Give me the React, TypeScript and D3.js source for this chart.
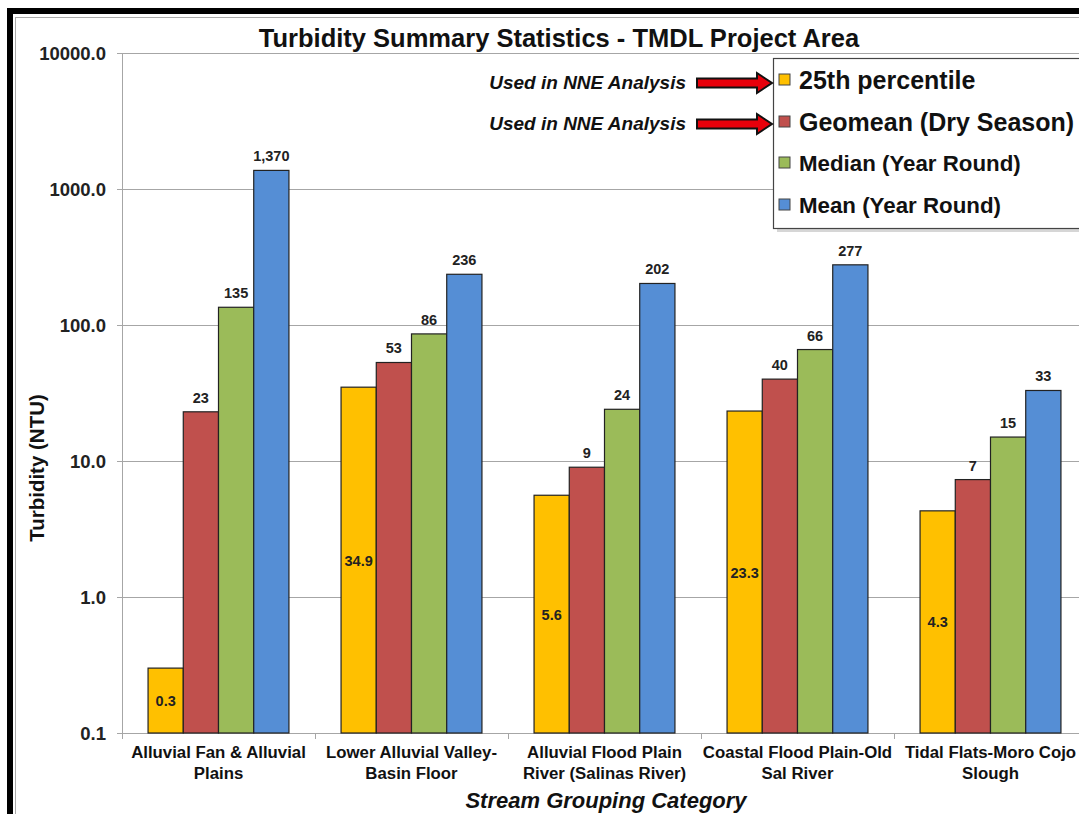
import React from "react";
import * as d3 from "d3";

const categories = [
  "Alluvial Fan & Alluvial Plains",
  "Lower Alluvial Valley-Basin Floor",
  "Alluvial Flood Plain River (Salinas River)",
  "Coastal Flood Plain-Old Sal River",
  "Tidal Flats-Moro Cojo Slough",
];
const categoryLines = [
  ["Alluvial Fan & Alluvial", "Plains"],
  ["Lower Alluvial Valley-", "Basin Floor"],
  ["Alluvial Flood Plain", "River (Salinas River)"],
  ["Coastal Flood Plain-Old", "Sal River"],
  ["Tidal Flats-Moro Cojo", "Slough"],
];
const seriesNames = ["25th percentile", "Geomean (Dry Season)", "Median (Year Round)", "Mean (Year Round)"];
const seriesColors = ["#FFC000", "#C0504D", "#9BBB59", "#558ED5"];
const p25 = [0.3, 34.9, 5.6, 23.3, 4.3];
const geomean = [23, 53, 9, 40, 7.3];
const median = [135, 86, 24, 66, 15];
const mean = [1370, 236, 202, 277, 33];
const seriesValues = [p25, geomean, median, mean];
const yTicks = [0.1, 1, 10, 100, 1000, 10000];

const FONT = "'Liberation Sans', Arial, sans-serif";

export default function App() {
  const W = 1079, H = 814;
  const left = 122, right = 1087, top = 53, bottom = 733;
  const y = d3.scaleLog().domain([0.1, 10000]).range([bottom, top]);
  const x0 = d3.scaleBand<string>().domain(categories).range([left, right]).paddingInner(0.27).paddingOuter(0.135);
  const x1 = d3.scaleBand<number>().domain(d3.range(4)).range([0, x0.bandwidth()]);
  const step = x0.step();
  const fmtInt = d3.format(",.0f");
  const fmtDec = d3.format(".1f");

  const arrow = (yc: number) => {
    const x0a = 697, xh = 757, xt = 772;
    const bh = 4.5, hh = 10;
    const pts = [
      [x0a, yc - bh], [xh, yc - bh], [xh, yc - hh], [xt, yc], [xh, yc + hh], [xh, yc + bh], [x0a, yc + bh],
    ];
    return pts.map((p) => p.join(",")).join(" ");
  };

  return (
    <svg width={W} height={H} style={{ position: "absolute", left: 0, top: 0, background: "#fff" }} fontFamily={FONT}>
      <rect x={0} y={0} width={W} height={H} fill="#fff" />
      {/* frame */}
      <line x1={10} y1={11} x2={W} y2={11} stroke="#000" strokeWidth={6} />
      <line x1={10} y1={8} x2={10} y2={H} stroke="#000" strokeWidth={6} />
      <line x1={15} y1={17.5} x2={W} y2={17.5} stroke="#aaa" strokeWidth={1} />
      <line x1={15.5} y1={17} x2={15.5} y2={H} stroke="#aaa" strokeWidth={1} />

      {/* title */}
      <text x={559} y={47} textAnchor="middle" fontSize={25.5} fontWeight="bold" fill="#111">
        Turbidity Summary Statistics - TMDL Project Area
      </text>

      {/* grid */}
      {yTicks.map((t) => (
        <g key={t}>
          <line x1={left - 5} x2={W} y1={Math.round(y(t)) + 0.5} y2={Math.round(y(t)) + 0.5} stroke="#a6a6a6" strokeWidth={1} />
          <text x={106} y={y(t) + 6.5} textAnchor="end" fontSize={18.5} fontWeight="bold" fill="#222">
            {t >= 1 ? t.toFixed(1) : "0.1"}
          </text>
        </g>
      ))}
      <line x1={left + 0.5} x2={left + 0.5} y1={top} y2={bottom} stroke="#a6a6a6" />
      {d3.range(categories.length + 1).map((i) => (
        <line key={i} x1={left + i * step + 0.5} x2={left + i * step + 0.5} y1={bottom} y2={bottom + 6} stroke="#a6a6a6" />
      ))}

      {/* bars */}
      {categories.map((c, ci) => (
        <g key={c} transform={`translate(${x0(c)},0)`}>
          {seriesValues.map((vals, si) => {
            const v = vals[ci];
            const bx = x1(si)!;
            const bw = x1.bandwidth();
            const by = y(v);
            return (
              <g key={si}>
                <rect x={bx} y={by} width={bw} height={bottom - by} fill={seriesColors[si]} stroke="#222" strokeWidth={1.2} />
                {si === 0 ? (
                  <text x={bx + bw / 2} y={(by + bottom) / 2 + 5.5} textAnchor="middle" fontSize={14.5} fontWeight="bold" fill="#222">
                    {fmtDec(v)}
                  </text>
                ) : (
                  <text x={bx + bw / 2} y={by - 9} textAnchor="middle" fontSize={14.5} fontWeight="bold" fill="#222">
                    {fmtInt(v)}
                  </text>
                )}
              </g>
            );
          })}
        </g>
      ))}

      {/* category labels */}
      {categories.map((c, ci) => (
        <text key={c} x={x0(c)! + x0.bandwidth() / 2} textAnchor="middle" fontSize={16.8} fontWeight="bold" fill="#111">
          <tspan x={x0(c)! + x0.bandwidth() / 2} y={758}>{categoryLines[ci][0]}</tspan>
          <tspan x={x0(c)! + x0.bandwidth() / 2} y={779}>{categoryLines[ci][1]}</tspan>
        </text>
      ))}

      {/* axis titles */}
      <text x={606} y={808} textAnchor="middle" fontSize={22} fontWeight="bold" fontStyle="italic" fill="#111">
        Stream Grouping Category
      </text>
      <text transform="translate(44,468) rotate(-90)" textAnchor="middle" fontSize={20.5} fontWeight="bold" fill="#111">
        Turbidity (NTU)
      </text>

      {/* legend */}
      <rect x={777} y={62} width={320} height={170} fill="#bbb" opacity={0.6} />
      <rect x={773.5} y={58.5} width={320} height={170} fill="#fff" stroke="#444" strokeWidth={1.2} />
      {seriesNames.map((n, i) => {
        const ry = [80, 122, 163, 205][i];
        const fs = i < 2 ? 25 : 22.3;
        return (
          <g key={n}>
            <rect x={779} y={ry - 6} width={11} height={11} fill={seriesColors[i]} stroke="#444" />
            <text x={799} y={ry + (i < 2 ? 9 : 8)} fontSize={fs} fontWeight="bold" fill="#111">{n}</text>
          </g>
        );
      })}

      {/* annotations */}
      {[83, 124].map((ay) => (
        <g key={ay}>
          <text x={686} y={ay + 6} textAnchor="end" fontSize={19} fontWeight="bold" fontStyle="italic" fill="#111">
            Used in NNE Analysis
          </text>
          <polygon points={arrow(ay)} fill="#E8000B" stroke="#111" strokeWidth={2} strokeLinejoin="miter" />
        </g>
      ))}
    </svg>
  );
}
